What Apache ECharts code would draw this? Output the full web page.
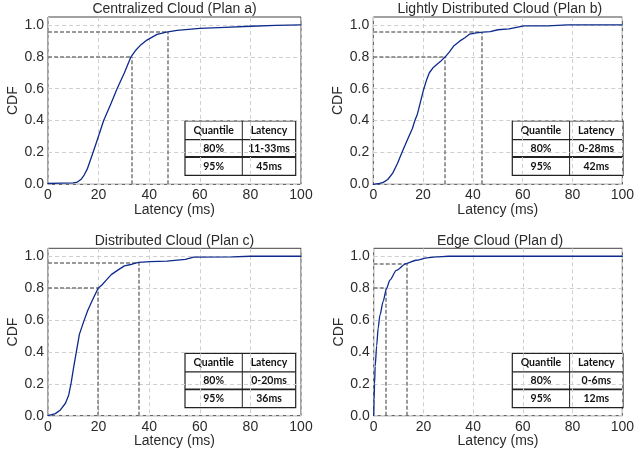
<!DOCTYPE html>
<html><head><meta charset="utf-8">
<script src="https://cdn.jsdelivr.net/npm/echarts@6/dist/echarts.min.js"></script>
<style>html,body{margin:0;padding:0;background:#fff}#c{width:637px;height:455px}</style>
</head><body><div id="c"></div>
<script>
// ---- data ----
const titles = ['Centralized Cloud (Plan a)', 'Lightly Distributed Cloud (Plan b)', 'Distributed Cloud (Plan c)', 'Edge Cloud (Plan d)'];
const xTicks = [0, 20, 40, 60, 80, 100];
const yTicks = [0.0, 0.2, 0.4, 0.6, 0.8, 1.0];

const latA = [0, 5, 10, 11.6, 13, 14.3, 15.5, 16.6, 17.8, 19.5, 22, 24.7, 27.3, 30.2, 32.8, 34.5, 36.5, 39.1, 43.1, 46.8, 51, 60, 70, 80, 90, 100];
const cdfA = [0.005, 0.007, 0.009, 0.014, 0.03, 0.058, 0.095, 0.145, 0.2, 0.28, 0.4, 0.5, 0.6, 0.7, 0.8, 0.838, 0.872, 0.905, 0.941, 0.955, 0.966, 0.978, 0.985, 0.992, 0.997, 1.0];

const latB = [0, 2.5, 4, 5.8, 7.8, 9.7, 11.5, 13.7, 15.7, 16.7, 17.7, 19, 20.3, 21.5, 22.5, 24.2, 26.9, 28.9, 30.5, 32.4, 34.8, 36.8, 38.7, 41.4, 44, 47, 50, 54.5, 57.5, 60.5, 70, 78, 100];
const cdfB = [0, 0.006, 0.012, 0.03, 0.07, 0.13, 0.2, 0.28, 0.35, 0.4, 0.44, 0.52, 0.6, 0.66, 0.7, 0.735, 0.77, 0.8, 0.83, 0.87, 0.9, 0.92, 0.943, 0.95, 0.955, 0.958, 0.97, 0.975, 0.985, 0.994, 0.994, 1.0, 1.0];

const latC = [0, 2.9, 4.9, 6.9, 8.2, 9.2, 10.1, 11.2, 12.4, 14.1, 15.7, 17.4, 19.8, 21.3, 23.3, 25, 27.3, 30.2, 33.2, 35.8, 40.4, 47, 54.3, 57.6, 73, 80, 100];
const cdfC = [0, 0.013, 0.036, 0.078, 0.13, 0.21, 0.3, 0.4, 0.51, 0.59, 0.66, 0.72, 0.8, 0.82, 0.855, 0.885, 0.91, 0.94, 0.95, 0.962, 0.966, 0.97, 0.98, 0.995, 0.996, 1.0, 1.0];

const latD = [0, 0.15, 0.35, 0.6, 1.2, 1.8, 2.5, 3.8, 5.1, 6.5, 9.1, 13, 17, 21.5, 25, 30, 100];
const cdfD = [0, 0.1, 0.2, 0.31, 0.44, 0.55, 0.63, 0.717, 0.795, 0.85, 0.912, 0.954, 0.975, 0.99, 0.996, 1.0, 1.0];

// quantile reference lines
const q80Lat = [33, 28.6, 19.8, 5];
const q95Lat = [47.5, 43.4, 35.7, 13.2];
const q80Cdf = [0.8, 0.8, 0.8, 0.8];
const q95Cdf = [0.955, 0.955, 0.96, 0.955];

// tables
const tableHeader = ['Quantile', 'Latency'];
const tableQuantiles = ['80%', '95%'];
const tableLatencies = [['11-33ms', '45ms'], ['0-28ms', '42ms'], ['0-20ms', '36ms'], ['0-6ms', '12ms']];

// ---- layout ----
const grids = [
  {left: 48, top: 17, width: 253, height: 167.3},
  {left: 373.3, top: 17, width: 253, height: 167.3},
  {left: 48, top: 248.3, width: 253, height: 167.4},
  {left: 373.7, top: 248.3, width: 252.6, height: 167.4}
];
const tablePos = [[185, 121], [512.3, 121], [185, 353.3], [512.3, 353.3]];

const FONT = "'Liberation Sans', Arial, sans-serif";
const TXT = '#2b2b2b';
const xs = [latA, latB, latC, latD];
const ys = [cdfA, cdfB, cdfC, cdfD];

const option = {
  animation: false,
  backgroundColor: '#fff',
  title: [], grid: [], xAxis: [], yAxis: [], series: [], graphic: []
};

for (let i = 0; i < 4; i++) {
  const g = grids[i];
  option.grid.push(Object.assign({show: true, borderColor: '#444', borderWidth: 1, backgroundColor: 'transparent'}, g));
  option.title.push({
    text: titles[i], left: g.left + g.width / 2, textAlign: 'center', top: g.top - 14.5, padding: 0,
    textStyle: {fontFamily: FONT, fontSize: 14, fontWeight: 'normal', color: TXT}
  });
  option.xAxis.push({
    type: 'value', gridIndex: i, min: xTicks[0], max: xTicks[xTicks.length - 1], interval: 20,
    name: 'Latency (ms)', nameLocation: 'middle', nameGap: 18,
    nameTextStyle: {fontFamily: FONT, fontSize: 14, color: TXT},
    axisLine: {show: false}, axisTick: {show: false},
    axisLabel: {fontFamily: FONT, fontSize: 14, color: TXT, margin: 4},
    splitLine: {show: true, lineStyle: {color: '#cfcfcf', type: [4, 3], width: 1}}
  });
  option.yAxis.push({
    type: 'value', gridIndex: i, min: 0, max: 1.05, interval: 0.2,
    name: 'CDF', nameLocation: 'middle', nameGap: 28,
    nameTextStyle: {fontFamily: FONT, fontSize: 14, color: TXT},
    axisLine: {show: false}, axisTick: {show: false},
    axisLabel: {fontFamily: FONT, fontSize: 14, color: TXT, margin: 4, showMaxLabel: false,
      formatter: v => (Math.abs(v - 1.05) < 1e-6 ? '' : v.toFixed(1))},
    splitLine: {show: true, lineStyle: {color: '#cfcfcf', type: [4, 3], width: 1},
      showMaxLine: false}
  });
  const dashStyle = {color: '#7a7a7a', type: [4, 2], width: 1.5};
  option.series.push({
    type: 'line', xAxisIndex: i, yAxisIndex: i, showSymbol: false, symbol: 'none',
    smooth: (i === 3) ? 0.25 : false, smoothMonotone: 'x',
    lineStyle: {color: '#0d2a8c', width: 1.3, join: 'round', cap: 'round'},
    data: xs[i].map((x, k) => [x, ys[i][k]]),
    z: 3,
    markLine: {
      silent: true, symbol: 'none', label: {show: false}, lineStyle: dashStyle, z: 2,
      data: [
        [{coord: [0, q80Cdf[i]]}, {coord: [q80Lat[i], q80Cdf[i]]}],
        [{coord: [q80Lat[i], 0]}, {coord: [q80Lat[i], q80Cdf[i]]}],
        [{coord: [0, q95Cdf[i]]}, {coord: [q95Lat[i], q95Cdf[i]]}],
        [{coord: [q95Lat[i], 0]}, {coord: [q95Lat[i], q95Cdf[i]]}]
      ]
    }
  });

  // table
  const [tx, ty] = tablePos[i];
  const c0 = 57.3, c1 = 53.4;
  const rh = [18.6, 17.4, 18.3];
  const children = [];
  children.push({type: 'rect', shape: {x: 0, y: 0, width: c0 + c1, height: rh[0] + rh[1] + rh[2]},
    style: {fill: '#fff', stroke: '#222', lineWidth: 1.2}});
  children.push({type: 'line', shape: {x1: c0, y1: 0, x2: c0, y2: rh[0] + rh[1] + rh[2]}, style: {stroke: '#222', lineWidth: 1}});
  children.push({type: 'line', shape: {x1: 0, y1: rh[0], x2: c0 + c1, y2: rh[0]}, style: {stroke: '#222', lineWidth: 1.2}});
  children.push({type: 'line', shape: {x1: 0, y1: rh[0] + rh[1], x2: c0 + c1, y2: rh[0] + rh[1]}, style: {stroke: '#222', lineWidth: 1.8}});
  const rows = [tableHeader, [tableQuantiles[0], tableLatencies[i][0]], [tableQuantiles[1], tableLatencies[i][1]]];
  let yy = 0;
  rows.forEach((r, k) => {
    const cy = yy + rh[k] / 2;
    children.push({type: 'text', x: c0 / 2, y: cy, style: {text: r[0], align: 'center', verticalAlign: 'middle',
      font: "bold 10.5px Lato, 'Open Sans', sans-serif", fill: '#111'}});
    children.push({type: 'text', x: c0 + c1 / 2, y: cy, style: {text: r[1], align: 'center', verticalAlign: 'middle',
      font: "bold 10.5px Lato, 'Open Sans', sans-serif", fill: '#111'}});
    yy += rh[k];
  });
  option.graphic.push({type: 'group', x: tx, y: ty, z: 100, children});
}

const chart = echarts.init(document.getElementById('c'), null, {renderer: 'canvas'});
chart.setOption(option);
</script>
</body></html>
